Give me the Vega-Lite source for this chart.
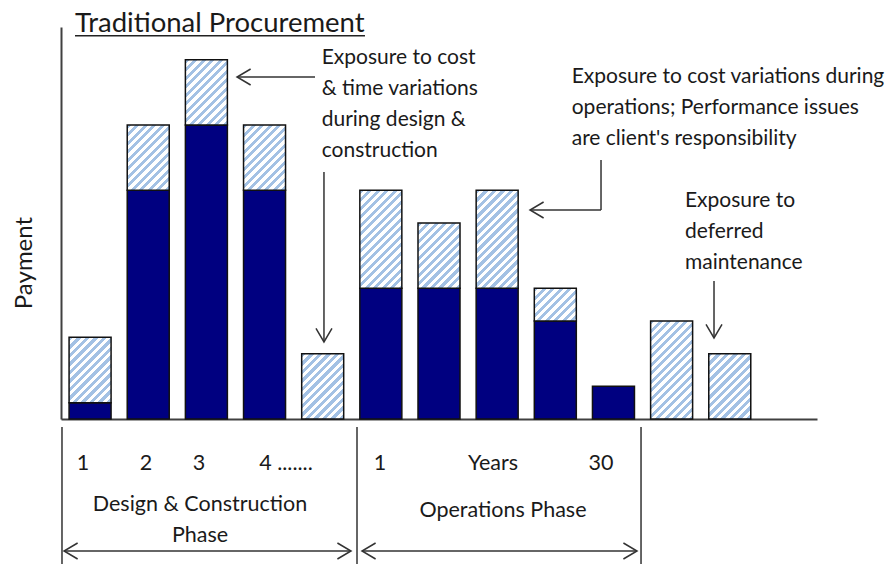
{
  "$schema": "https://vega.github.io/schema/vega-lite/v6.json",
  "width": 756,
  "height": 392,
  "autosize": {"type": "none"},
  "padding": {"left": 61, "top": 27, "right": 74, "bottom": 145},
  "background": "white",
  "config": {
    "view": {"stroke": null},
    "scale": {"continuousPadding": 0},
    "axis": {"ticks": false, "labels": false, "grid": false, "domain": true, "domainColor": "#404040", "domainWidth": 2, "title": null},
    "text": {"font": "Lato", "color": "#1a1a1a"}
  },
  "datasets": {
    "bars": [
      {"bar": 1, "base": 0.5, "total": 2.5},
      {"bar": 2, "base": 7, "total": 9},
      {"bar": 3, "base": 9, "total": 11},
      {"bar": 4, "base": 7, "total": 9},
      {"bar": 5, "base": 0, "total": 2},
      {"bar": 6, "base": 4, "total": 7},
      {"bar": 7, "base": 4, "total": 6},
      {"bar": 8, "base": 4, "total": 7},
      {"bar": 9, "base": 3, "total": 4},
      {"bar": 10, "base": 1, "total": 1},
      {"bar": 11, "base": 0, "total": 3},
      {"bar": 12, "base": 0, "total": 2}
    ],
    "segments": [
      {"x": 3.527, "y": 10.469, "x2": 4.868, "y2": 10.469},
      {"x": 5.022, "y": 7.561, "x2": 5.022, "y2": 2.357},
      {"x": 9.786, "y": 7.928, "x2": 9.786, "y2": 6.398},
      {"x": 9.786, "y": 6.398, "x2": 8.565, "y2": 6.398},
      {"x": 11.729, "y": 4.224, "x2": 11.729, "y2": 2.48},
      {"x": 0.552, "y": -4.041, "x2": 5.487, "y2": -4.041},
      {"x": 5.676, "y": -4.041, "x2": 10.405, "y2": -4.041},
      {"x": 0.517, "y": -0.245, "x2": 0.517, "y2": -4.6},
      {"x": 5.59, "y": -0.245, "x2": 5.59, "y2": -4.6},
      {"x": 10.474, "y": -0.245, "x2": 10.474, "y2": -4.6}
    ],
    "heads": [
      {"x": 3.527, "y": 10.469, "dir": "left"},
      {"x": 5.022, "y": 2.357, "dir": "down"},
      {"x": 8.565, "y": 6.398, "dir": "left"},
      {"x": 11.729, "y": 2.48, "dir": "down"},
      {"x": 0.552, "y": -4.041, "dir": "left"},
      {"x": 5.487, "y": -4.041, "dir": "right"},
      {"x": 5.676, "y": -4.041, "dir": "left"},
      {"x": 10.405, "y": -4.041, "dir": "right"}
    ],
    "notes": [
      {"label": "Exposure to cost\n& time variations\nduring design &\nconstruction", "x": 4.983, "y": 10.867},
      {"label": "Exposure to cost variations during\noperations; Performance issues\nare client's responsibility", "x": 9.282, "y": 10.286},
      {"label": "Exposure to\ndeferred\nmaintenance", "x": 11.23, "y": 6.499}
    ],
    "ticks": [
      {"label": "1", "x": 0.878, "y": -1.55},
      {"label": "2", "x": 1.962, "y": -1.55},
      {"label": "3", "x": 2.873, "y": -1.55},
      {"label": "4 .......", "x": 4.369, "y": -1.55},
      {"label": "1", "x": 5.985, "y": -1.55},
      {"label": "Years", "x": 7.929, "y": -1.55},
      {"label": "30", "x": 9.786, "y": -1.55}
    ],
    "phases": [
      {"label": "Design & Construction\nPhase", "x": 2.89, "y": -2.807},
      {"label": "Operations Phase", "x": 8.1, "y": -2.991}
    ],
    "titles": [
      {"label": "Traditional Procurement", "x": 0.741, "y": 11.847}
    ],
    "underline": [
      {"x": 0.741, "x2": 5.727, "y": 11.733, "y2": 11.733}
    ],
    "ylab": [
      {"label": "Payment", "x": -0.119, "y": 4.775}
    ]
  },
  "layer": [
    {
      "data": {"name": "bars"},
      "transform": [{"filter": "datum.base > 0"}],
      "mark": {"type": "bar", "orient": "vertical", "size": 42, "fill": "#000080", "stroke": "#111111", "strokeWidth": 1.5},
      "encoding": {
        "x": {"field": "bar", "type": "quantitative", "scale": {"domain": [0.5, 13.5], "nice": false, "zero": false, "padding": 0}, "axis": {"title": null}},
        "y": {"field": "base", "type": "quantitative", "scale": {"domain": [0, 12], "nice": false, "zero": false, "padding": 0}, "axis": {"title": null}}
      }
    },
    {
      "data": {"name": "bars"},
      "transform": [{"filter": "datum.total - datum.base == 1"}],
      "mark": {"type": "bar", "orient": "vertical", "size": 42, "stroke": "#111111", "strokeWidth": 1.5,
        "fill": {"gradient": "linear", "x1": 0, "y1": 0, "x2": 1.1077, "y2": 0.86155, "stops": [
          {"offset": 0, "color": "#a3c1e4"}, {"offset": 0.0569, "color": "#a3c1e4"}, {"offset": 0.0569, "color": "#ffffff"}, {"offset": 0.1138, "color": "#ffffff"},
          {"offset": 0.1138, "color": "#a3c1e4"}, {"offset": 0.1708, "color": "#a3c1e4"}, {"offset": 0.1708, "color": "#ffffff"}, {"offset": 0.2277, "color": "#ffffff"},
          {"offset": 0.2277, "color": "#a3c1e4"}, {"offset": 0.2846, "color": "#a3c1e4"}, {"offset": 0.2846, "color": "#ffffff"}, {"offset": 0.3415, "color": "#ffffff"},
          {"offset": 0.3415, "color": "#a3c1e4"}, {"offset": 0.3984, "color": "#a3c1e4"}, {"offset": 0.3984, "color": "#ffffff"}, {"offset": 0.4554, "color": "#ffffff"},
          {"offset": 0.4554, "color": "#a3c1e4"}, {"offset": 0.5123, "color": "#a3c1e4"}, {"offset": 0.5123, "color": "#ffffff"}, {"offset": 0.5692, "color": "#ffffff"},
          {"offset": 0.5692, "color": "#a3c1e4"}, {"offset": 0.6261, "color": "#a3c1e4"}, {"offset": 0.6261, "color": "#ffffff"}, {"offset": 0.683, "color": "#ffffff"},
          {"offset": 0.683, "color": "#a3c1e4"}, {"offset": 0.74, "color": "#a3c1e4"}, {"offset": 0.74, "color": "#ffffff"}, {"offset": 0.7969, "color": "#ffffff"},
          {"offset": 0.7969, "color": "#a3c1e4"}, {"offset": 0.8538, "color": "#a3c1e4"}, {"offset": 0.8538, "color": "#ffffff"}, {"offset": 0.9107, "color": "#ffffff"},
          {"offset": 0.9107, "color": "#a3c1e4"}, {"offset": 0.9676, "color": "#a3c1e4"}, {"offset": 0.9676, "color": "#ffffff"}, {"offset": 1, "color": "#ffffff"}
        ]}},
      "encoding": {
        "x": {"field": "bar", "type": "quantitative", "scale": {"domain": [0.5, 13.5], "nice": false, "zero": false, "padding": 0}, "axis": {"title": null}},
        "y": {"field": "base", "type": "quantitative", "scale": {"domain": [0, 12], "nice": false, "zero": false, "padding": 0}, "axis": {"title": null}},
        "y2": {"field": "total"}
      }
    },
    {
      "data": {"name": "bars"},
      "transform": [{"filter": "datum.total - datum.base == 2"}],
      "mark": {"type": "bar", "orient": "vertical", "size": 42, "stroke": "#111111", "strokeWidth": 1.5,
        "fill": {"gradient": "linear", "x1": 0, "y1": 0, "x2": 0.74731, "y2": 1.16248, "stops": [
          {"offset": 0, "color": "#a3c1e4"}, {"offset": 0.0396, "color": "#a3c1e4"}, {"offset": 0.0396, "color": "#ffffff"}, {"offset": 0.0792, "color": "#ffffff"},
          {"offset": 0.0792, "color": "#a3c1e4"}, {"offset": 0.1188, "color": "#a3c1e4"}, {"offset": 0.1188, "color": "#ffffff"}, {"offset": 0.1584, "color": "#ffffff"},
          {"offset": 0.1584, "color": "#a3c1e4"}, {"offset": 0.198, "color": "#a3c1e4"}, {"offset": 0.198, "color": "#ffffff"}, {"offset": 0.2376, "color": "#ffffff"},
          {"offset": 0.2376, "color": "#a3c1e4"}, {"offset": 0.2772, "color": "#a3c1e4"}, {"offset": 0.2772, "color": "#ffffff"}, {"offset": 0.3168, "color": "#ffffff"},
          {"offset": 0.3168, "color": "#a3c1e4"}, {"offset": 0.3564, "color": "#a3c1e4"}, {"offset": 0.3564, "color": "#ffffff"}, {"offset": 0.396, "color": "#ffffff"},
          {"offset": 0.396, "color": "#a3c1e4"}, {"offset": 0.4356, "color": "#a3c1e4"}, {"offset": 0.4356, "color": "#ffffff"}, {"offset": 0.4752, "color": "#ffffff"},
          {"offset": 0.4752, "color": "#a3c1e4"}, {"offset": 0.5148, "color": "#a3c1e4"}, {"offset": 0.5148, "color": "#ffffff"}, {"offset": 0.5544, "color": "#ffffff"},
          {"offset": 0.5544, "color": "#a3c1e4"}, {"offset": 0.5939, "color": "#a3c1e4"}, {"offset": 0.5939, "color": "#ffffff"}, {"offset": 0.6335, "color": "#ffffff"},
          {"offset": 0.6335, "color": "#a3c1e4"}, {"offset": 0.6731, "color": "#a3c1e4"}, {"offset": 0.6731, "color": "#ffffff"}, {"offset": 0.7127, "color": "#ffffff"},
          {"offset": 0.7127, "color": "#a3c1e4"}, {"offset": 0.7523, "color": "#a3c1e4"}, {"offset": 0.7523, "color": "#ffffff"}, {"offset": 0.7919, "color": "#ffffff"},
          {"offset": 0.7919, "color": "#a3c1e4"}, {"offset": 0.8315, "color": "#a3c1e4"}, {"offset": 0.8315, "color": "#ffffff"}, {"offset": 0.8711, "color": "#ffffff"},
          {"offset": 0.8711, "color": "#a3c1e4"}, {"offset": 0.9107, "color": "#a3c1e4"}, {"offset": 0.9107, "color": "#ffffff"}, {"offset": 0.9503, "color": "#ffffff"},
          {"offset": 0.9503, "color": "#a3c1e4"}, {"offset": 0.9899, "color": "#a3c1e4"}, {"offset": 0.9899, "color": "#ffffff"}, {"offset": 1, "color": "#ffffff"}
        ]}},
      "encoding": {
        "x": {"field": "bar", "type": "quantitative", "scale": {"domain": [0.5, 13.5], "nice": false, "zero": false, "padding": 0}, "axis": {"title": null}},
        "y": {"field": "base", "type": "quantitative", "scale": {"domain": [0, 12], "nice": false, "zero": false, "padding": 0}, "axis": {"title": null}},
        "y2": {"field": "total"}
      }
    },
    {
      "data": {"name": "bars"},
      "transform": [{"filter": "datum.total - datum.base == 3"}],
      "mark": {"type": "bar", "orient": "vertical", "size": 42, "stroke": "#111111", "strokeWidth": 1.5,
        "fill": {"gradient": "linear", "x1": 0, "y1": 0, "x2": 0.51725, "y2": 1.2069, "stops": [
          {"offset": 0, "color": "#a3c1e4"}, {"offset": 0.0304, "color": "#a3c1e4"}, {"offset": 0.0304, "color": "#ffffff"}, {"offset": 0.0607, "color": "#ffffff"},
          {"offset": 0.0607, "color": "#a3c1e4"}, {"offset": 0.0911, "color": "#a3c1e4"}, {"offset": 0.0911, "color": "#ffffff"}, {"offset": 0.1214, "color": "#ffffff"},
          {"offset": 0.1214, "color": "#a3c1e4"}, {"offset": 0.1518, "color": "#a3c1e4"}, {"offset": 0.1518, "color": "#ffffff"}, {"offset": 0.1821, "color": "#ffffff"},
          {"offset": 0.1821, "color": "#a3c1e4"}, {"offset": 0.2125, "color": "#a3c1e4"}, {"offset": 0.2125, "color": "#ffffff"}, {"offset": 0.2429, "color": "#ffffff"},
          {"offset": 0.2429, "color": "#a3c1e4"}, {"offset": 0.2732, "color": "#a3c1e4"}, {"offset": 0.2732, "color": "#ffffff"}, {"offset": 0.3036, "color": "#ffffff"},
          {"offset": 0.3036, "color": "#a3c1e4"}, {"offset": 0.3339, "color": "#a3c1e4"}, {"offset": 0.3339, "color": "#ffffff"}, {"offset": 0.3643, "color": "#ffffff"},
          {"offset": 0.3643, "color": "#a3c1e4"}, {"offset": 0.3946, "color": "#a3c1e4"}, {"offset": 0.3946, "color": "#ffffff"}, {"offset": 0.425, "color": "#ffffff"},
          {"offset": 0.425, "color": "#a3c1e4"}, {"offset": 0.4554, "color": "#a3c1e4"}, {"offset": 0.4554, "color": "#ffffff"}, {"offset": 0.4857, "color": "#ffffff"},
          {"offset": 0.4857, "color": "#a3c1e4"}, {"offset": 0.5161, "color": "#a3c1e4"}, {"offset": 0.5161, "color": "#ffffff"}, {"offset": 0.5464, "color": "#ffffff"},
          {"offset": 0.5464, "color": "#a3c1e4"}, {"offset": 0.5768, "color": "#a3c1e4"}, {"offset": 0.5768, "color": "#ffffff"}, {"offset": 0.6071, "color": "#ffffff"},
          {"offset": 0.6071, "color": "#a3c1e4"}, {"offset": 0.6375, "color": "#a3c1e4"}, {"offset": 0.6375, "color": "#ffffff"}, {"offset": 0.6679, "color": "#ffffff"},
          {"offset": 0.6679, "color": "#a3c1e4"}, {"offset": 0.6982, "color": "#a3c1e4"}, {"offset": 0.6982, "color": "#ffffff"}, {"offset": 0.7286, "color": "#ffffff"},
          {"offset": 0.7286, "color": "#a3c1e4"}, {"offset": 0.7589, "color": "#a3c1e4"}, {"offset": 0.7589, "color": "#ffffff"}, {"offset": 0.7893, "color": "#ffffff"},
          {"offset": 0.7893, "color": "#a3c1e4"}, {"offset": 0.8196, "color": "#a3c1e4"}, {"offset": 0.8196, "color": "#ffffff"}, {"offset": 0.85, "color": "#ffffff"},
          {"offset": 0.85, "color": "#a3c1e4"}, {"offset": 0.8804, "color": "#a3c1e4"}, {"offset": 0.8804, "color": "#ffffff"}, {"offset": 0.9107, "color": "#ffffff"},
          {"offset": 0.9107, "color": "#a3c1e4"}, {"offset": 0.9411, "color": "#a3c1e4"}, {"offset": 0.9411, "color": "#ffffff"}, {"offset": 0.9714, "color": "#ffffff"},
          {"offset": 0.9714, "color": "#a3c1e4"}, {"offset": 1, "color": "#a3c1e4"}
        ]}},
      "encoding": {
        "x": {"field": "bar", "type": "quantitative", "scale": {"domain": [0.5, 13.5], "nice": false, "zero": false, "padding": 0}, "axis": {"title": null}},
        "y": {"field": "base", "type": "quantitative", "scale": {"domain": [0, 12], "nice": false, "zero": false, "padding": 0}, "axis": {"title": null}},
        "y2": {"field": "total"}
      }
    },
    {
      "data": {"name": "segments"},
      "mark": {"type": "rule", "color": "#333333", "strokeWidth": 1.5},
      "encoding": {
        "x": {"field": "x", "type": "quantitative", "scale": {"domain": [0.5, 13.5], "nice": false, "zero": false, "padding": 0}, "axis": {"title": null}},
        "y": {"field": "y", "type": "quantitative", "scale": {"domain": [0, 12], "nice": false, "zero": false, "padding": 0}, "axis": {"title": null}},
        "x2": {"field": "x2"},
        "y2": {"field": "y2"}
      }
    },
    {
      "data": {"name": "underline"},
      "mark": {"type": "rule", "color": "#222222", "strokeWidth": 1.5},
      "encoding": {
        "x": {"field": "x", "type": "quantitative", "scale": {"domain": [0.5, 13.5], "nice": false, "zero": false, "padding": 0}, "axis": {"title": null}},
        "y": {"field": "y", "type": "quantitative", "scale": {"domain": [0, 12], "nice": false, "zero": false, "padding": 0}, "axis": {"title": null}},
        "x2": {"field": "x2"},
        "y2": {"field": "y2"}
      }
    },
    {
      "data": {"name": "heads"},
      "transform": [{"filter": "datum.dir == 'right'"}],
      "mark": {"type": "point", "shape": "M-1.7,-1L0,0L-1.7,1", "filled": false, "stroke": "#333333", "strokeWidth": 1.5, "size": 256, "opacity": 1},
      "encoding": {
        "x": {"field": "x", "type": "quantitative", "scale": {"domain": [0.5, 13.5], "nice": false, "zero": false, "padding": 0}, "axis": {"title": null}},
        "y": {"field": "y", "type": "quantitative", "scale": {"domain": [0, 12], "nice": false, "zero": false, "padding": 0}, "axis": {"title": null}}
      }
    },
    {
      "data": {"name": "heads"},
      "transform": [{"filter": "datum.dir == 'left'"}],
      "mark": {"type": "point", "shape": "M1.7,-1L0,0L1.7,1", "filled": false, "stroke": "#333333", "strokeWidth": 1.5, "size": 256, "opacity": 1},
      "encoding": {
        "x": {"field": "x", "type": "quantitative", "scale": {"domain": [0.5, 13.5], "nice": false, "zero": false, "padding": 0}, "axis": {"title": null}},
        "y": {"field": "y", "type": "quantitative", "scale": {"domain": [0, 12], "nice": false, "zero": false, "padding": 0}, "axis": {"title": null}}
      }
    },
    {
      "data": {"name": "heads"},
      "transform": [{"filter": "datum.dir == 'down'"}],
      "mark": {"type": "point", "shape": "M-1,-1.7L0,0L1,-1.7", "filled": false, "stroke": "#333333", "strokeWidth": 1.5, "size": 256, "opacity": 1},
      "encoding": {
        "x": {"field": "x", "type": "quantitative", "scale": {"domain": [0.5, 13.5], "nice": false, "zero": false, "padding": 0}, "axis": {"title": null}},
        "y": {"field": "y", "type": "quantitative", "scale": {"domain": [0, 12], "nice": false, "zero": false, "padding": 0}, "axis": {"title": null}}
      }
    },
    {
      "data": {"name": "notes"},
      "mark": {"type": "text", "align": "left", "baseline": "alphabetic", "fontSize": 21, "lineBreak": "\n", "lineHeight": 31},
      "encoding": {
        "x": {"field": "x", "type": "quantitative", "scale": {"domain": [0.5, 13.5], "nice": false, "zero": false, "padding": 0}, "axis": {"title": null}},
        "y": {"field": "y", "type": "quantitative", "scale": {"domain": [0, 12], "nice": false, "zero": false, "padding": 0}, "axis": {"title": null}},
        "text": {"field": "label"}
      }
    },
    {
      "data": {"name": "ticks"},
      "mark": {"type": "text", "align": "center", "baseline": "alphabetic", "fontSize": 21.5},
      "encoding": {
        "x": {"field": "x", "type": "quantitative", "scale": {"domain": [0.5, 13.5], "nice": false, "zero": false, "padding": 0}, "axis": {"title": null}},
        "y": {"field": "y", "type": "quantitative", "scale": {"domain": [0, 12], "nice": false, "zero": false, "padding": 0}, "axis": {"title": null}},
        "text": {"field": "label"}
      }
    },
    {
      "data": {"name": "phases"},
      "mark": {"type": "text", "align": "center", "baseline": "alphabetic", "fontSize": 21.5, "lineBreak": "\n", "lineHeight": 31.6},
      "encoding": {
        "x": {"field": "x", "type": "quantitative", "scale": {"domain": [0.5, 13.5], "nice": false, "zero": false, "padding": 0}, "axis": {"title": null}},
        "y": {"field": "y", "type": "quantitative", "scale": {"domain": [0, 12], "nice": false, "zero": false, "padding": 0}, "axis": {"title": null}},
        "text": {"field": "label"}
      }
    },
    {
      "data": {"name": "titles"},
      "mark": {"type": "text", "align": "left", "baseline": "alphabetic", "fontSize": 27.5},
      "encoding": {
        "x": {"field": "x", "type": "quantitative", "scale": {"domain": [0.5, 13.5], "nice": false, "zero": false, "padding": 0}, "axis": {"title": null}},
        "y": {"field": "y", "type": "quantitative", "scale": {"domain": [0, 12], "nice": false, "zero": false, "padding": 0}, "axis": {"title": null}},
        "text": {"field": "label"}
      }
    },
    {
      "data": {"name": "ylab"},
      "mark": {"type": "text", "align": "center", "baseline": "middle", "fontSize": 24, "angle": 270},
      "encoding": {
        "x": {"field": "x", "type": "quantitative", "scale": {"domain": [0.5, 13.5], "nice": false, "zero": false, "padding": 0}, "axis": {"title": null}},
        "y": {"field": "y", "type": "quantitative", "scale": {"domain": [0, 12], "nice": false, "zero": false, "padding": 0}, "axis": {"title": null}},
        "text": {"field": "label"}
      }
    }
  ]
}
